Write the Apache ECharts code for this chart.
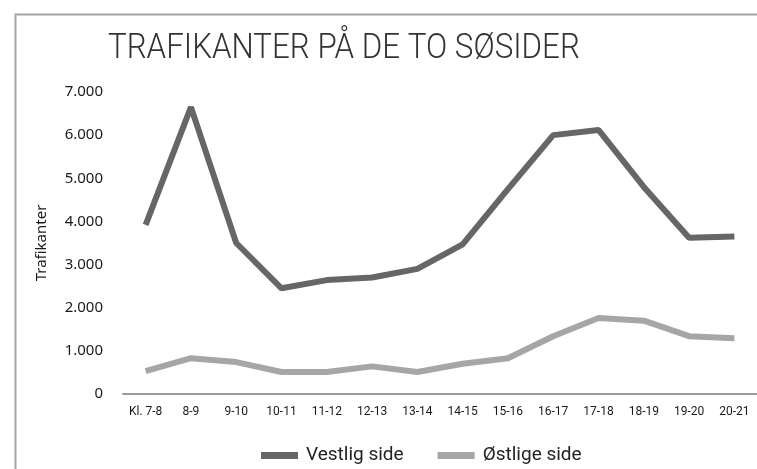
<!DOCTYPE html>
<html>
<head>
<meta charset="utf-8">
<script src="https://cdn.jsdelivr.net/npm/echarts@6/dist/echarts.min.js"></script>
<style>html,body{margin:0;padding:0;background:#fff}#c{width:757px;height:469px}</style>
</head>
<body>
<div id="c"></div>
<script>
var categories = ['Kl. 7-8','8-9','9-10','10-11','11-12','12-13','13-14','14-15','15-16','16-17','17-18','18-19','19-20','20-21'];
var vestlig = [3920, 6650, 3500, 2450, 2640, 2700, 2900, 3470, 4750, 6000, 6120, 4800, 3620, 3650];
var ostlige = [530, 830, 740, 510, 510, 640, 510, 700, 830, 1340, 1760, 1700, 1340, 1290];
var yTicks = [0, 1000, 2000, 3000, 4000, 5000, 6000, 7000];

var chart = echarts.init(document.getElementById('c'));
var condensed = '"Roboto", sans-serif';
chart.setOption({
  animation: false,
  graphic: [
    {type: 'rect', left: 13, top: 12, shape: {width: 800, height: 500}, style: {fill: 'none', stroke: '#a3a3a3', lineWidth: 2}, silent: true},
    {type: 'text', left: 108, top: 32, style: {text: 'TRAFIKANTER PÅ DE TO SØSIDER', font: '300 35px Roboto', fill: '#333'}, scaleX: 0.895}
  ],
  grid: {left: 123, right: 0, top: 92, bottom: 75},
  legend: {
    left: 256, top: 441,
    itemWidth: 37, itemHeight: 7, itemGap: 34,
    icon: 'rect',
    textStyle: {fontFamily: condensed, fontSize: 19, color: '#222', padding: [0,0,0,3]},
    data: ['Vestlig side', 'Østlige side']
  },
  xAxis: {
    type: 'category',
    data: categories,
    boundaryGap: true,
    axisLine: {lineStyle: {color: '#9a9a9a', width: 2}},
    axisTick: {show: false},
    axisLabel: {fontFamily: condensed, fontSize: 12, color: '#1a1a1a', margin: 12, interval: 0}
  },
  yAxis: {
    type: 'value',
    min: yTicks[0], max: yTicks[yTicks.length-1], interval: 1000,
    name: 'Trafikanter', nameLocation: 'middle', nameGap: 74,
    nameTextStyle: {fontFamily: '"Noto Sans", sans-serif', fontSize: 15, color: '#1a1a1a'},
    axisLine: {show: false}, axisTick: {show: false}, splitLine: {show: false},
    axisLabel: {
      fontFamily: '"Noto Sans", sans-serif', fontSize: 15, color: '#1a1a1a', margin: 20,
      formatter: function (v) { return v === 0 ? '0' : (v/1000).toFixed(3); }
    }
  },
  series: [
    {name: 'Vestlig side', type: 'line', data: vestlig, symbol: 'none', lineStyle: {width: 6, color: '#666666'}, itemStyle: {color: '#666666'}},
    {name: 'Østlige side', type: 'line', data: ostlige, symbol: 'none', lineStyle: {width: 6, color: '#a6a6a6'}, itemStyle: {color: '#a6a6a6'}}
  ]
});
</script>
</body>
</html>
